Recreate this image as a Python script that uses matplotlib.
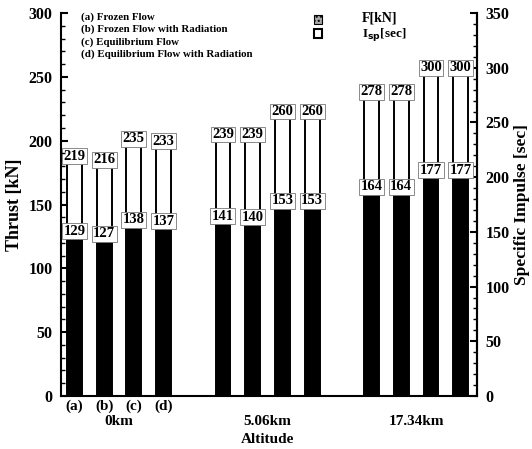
import numpy as np
import matplotlib
matplotlib.use("Agg")
import matplotlib.pyplot as plt
from matplotlib.ticker import MultipleLocator
from matplotlib.patches import Rectangle

plt.rcParams['font.family'] = ['Liberation Serif', 'DejaVu Serif']
plt.rcParams['font.weight'] = 'bold'
plt.rcParams['axes.labelweight'] = 'bold'

altitudes = ["0km", "5.06km", "17.34km"]
cases = ["(a)", "(b)", "(c)", "(d)"]
case_names = ["(a) Frozen Flow", "(b) Frozen Flow with Radiation",
              "(c) Equilibrium Flow", "(d) Equilibrium Flow with Radiation"]
thrust = [129, 127, 138, 137, 141, 140, 153, 153, 164, 164, 177, 177]
isp = [219, 216, 235, 233, 239, 239, 260, 260, 278, 278, 300, 300]

x = np.array([g * 5 + i for g in range(len(altitudes)) for i in range(len(cases))])
width = 0.5

fig = plt.figure(figsize=(5.32, 4.49), dpi=100)
ax = fig.add_axes([0.1147, 0.118, 0.782, 0.853])
ax2 = ax.twinx()
ax.set_zorder(ax2.get_zorder() + 1)
ax.patch.set_visible(False)

box = dict(boxstyle="square,pad=0.1", fc="white", ec="#777777", lw=0.6)

# Isp bars (outline only) on the right axis
ax2.bar(x, isp, width, color="white", edgecolor="black", linewidth=1.4)
for xi, v in zip(x, isp):
    ax2.text(xi, v, str(v), ha="center", va="center", fontsize=10.5,
             bbox=box, zorder=5)

# thrust bars on the left axis
ax.bar(x, thrust, width, color="black", zorder=3)
for xi, v in zip(x, thrust):
    ax.text(xi, v, str(v), ha="center", va="center", fontsize=10.5,
            bbox=box, zorder=5)

ax.set_xlim(-0.45, 13.55)
ax.set_ylim(0, 300)
ax2.set_ylim(0, 350)

for a in (ax, ax2):
    a.spines['top'].set_visible(False)
    for s in a.spines.values():
        s.set_linewidth(1.5)
ax2.spines['left'].set_visible(False)
ax2.spines['bottom'].set_visible(False)

ax.yaxis.set_major_locator(MultipleLocator(50))
ax.yaxis.set_minor_locator(MultipleLocator(10))
ax2.yaxis.set_major_locator(MultipleLocator(50))
ax2.yaxis.set_minor_locator(MultipleLocator(10))
ax.tick_params(axis='y', which='major', direction='in', length=5, width=1.5, labelsize=11.5, pad=6)
ax.tick_params(axis='y', which='minor', direction='in', length=3, width=1.0)
ax2.tick_params(axis='y', which='major', direction='in', length=5, width=1.5, labelsize=11.5, pad=6)
ax2.tick_params(axis='y', which='minor', direction='in', length=3, width=1.0)
ax.set_xticks([])

ax.set_ylabel("Thrust [kN]", fontsize=13, labelpad=4)
ax2.set_ylabel("Specific Impulse [sec]", fontsize=12.5, labelpad=3)

# case labels under first group and altitude labels
for i, c in enumerate(cases):
    ax.text(x[i], -3, c, ha="center", va="top", fontsize=11, clip_on=False)
for g, alt in enumerate(altitudes):
    ax.text(g * 5 + 1.5, -15, alt, ha="center", va="top", fontsize=11, clip_on=False)
ax.text(6.5, -29, "Altitude", ha="center", va="top", fontsize=11, clip_on=False)

# case legend text
for j, name in enumerate(case_names):
    fig.text(0.152, 0.962 - j * 0.0275, name, fontsize=7.8, va="center")

# bar legend
fig.patches.append(Rectangle((0.590, 0.947), 0.016, 0.02, transform=fig.transFigure,
                             fc="#aaaaaa", ec="black", lw=0.8, hatch="....", figure=fig))
fig.patches.append(Rectangle((0.590, 0.916), 0.016, 0.02, transform=fig.transFigure,
                             fc="white", ec="black", lw=1.5, figure=fig))
fig.text(0.68, 0.960, "F[kN]", fontsize=10, va="center")
fig.text(0.68, 0.924, r"I$_{\mathbf{sp}}$[sec]", fontsize=9.5, va="center")

fig.savefig("out.png", dpi=100)
